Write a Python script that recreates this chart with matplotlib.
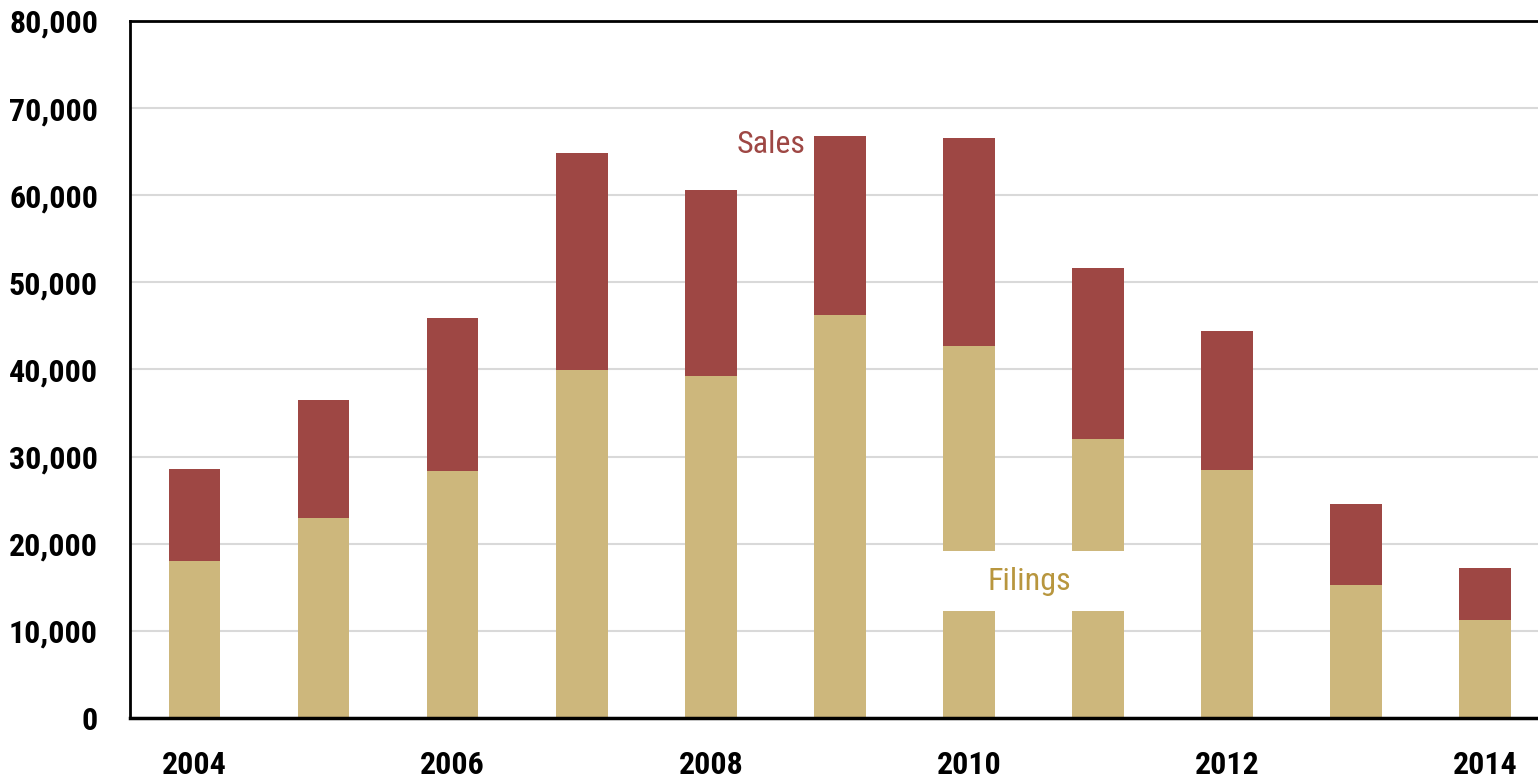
import matplotlib.pyplot as plt
from matplotlib.patches import Rectangle
from matplotlib.ticker import FuncFormatter

years = [2004, 2005, 2006, 2007, 2008, 2009, 2010, 2011, 2012, 2013, 2014]
filings = [18000, 22900, 28400, 39900, 39300, 46300, 42700, 32000, 28500, 15300, 11200]
totals = [28600, 36500, 45900, 64900, 60600, 66800, 66600, 51600, 44400, 24600, 17200]
sales = [t - f for t, f in zip(totals, filings)]

tick_years = [2004, 2006, 2008, 2010, 2012, 2014]
y_ticks = [0, 10000, 20000, 30000, 40000, 50000, 60000, 70000, 80000]

FILINGS_COLOR = '#CDB77C'
SALES_COLOR = '#9E4744'
FONT = ['Roboto Condensed', 'Barlow Condensed', 'DejaVu Sans']

plt.rcParams['font.family'] = FONT


def main():
    fig = plt.figure(figsize=(15.38, 7.8), dpi=100)
    ax = fig.add_axes([130 / 1538, 62 / 780, 1408 / 1538, 697 / 780])

    x = list(range(len(years)))
    ax.bar(x, filings, width=0.4, color=FILINGS_COLOR, zorder=2)
    ax.bar(x, sales, width=0.4, bottom=filings, color=SALES_COLOR, zorder=2)

    ax.set_ylim(0, 80000)
    ax.set_xlim(-0.5, 10.41)
    ax.set_yticks(y_ticks)
    ax.yaxis.set_major_formatter(FuncFormatter(lambda v, p: f'{int(v):,}'))
    ax.set_xticks([years.index(y) for y in tick_years])
    ax.set_xticklabels([str(y) for y in tick_years])
    ax.tick_params(axis='both', length=0, labelsize=23)
    ax.tick_params(axis='y', pad=23)
    ax.tick_params(axis='x', pad=23)
    for lbl in ax.get_xticklabels() + ax.get_yticklabels():
        lbl.set_fontweight('bold')

    ax.grid(axis='y', color='#D9D9D9', linewidth=1.5, zorder=0)
    ax.set_axisbelow(True)
    ax.spines['right'].set_visible(False)
    ax.spines['left'].set_linewidth(2)
    ax.spines['top'].set_linewidth(2)
    ax.spines['bottom'].set_linewidth(2.5)

    # white box behind the Filings label
    ax.add_patch(Rectangle((5.8, 12300), 1.405, 6850, facecolor='white',
                           edgecolor='none', zorder=3))
    ax.text(6.47, 15700, 'Filings', color='#B8963E', fontsize=23,
            ha='center', va='center', zorder=4)
    ax.text(4.47, 65800, 'Sales', color=SALES_COLOR, fontsize=23,
            ha='center', va='center', zorder=4)

    fig.savefig('out.png', dpi=100)


if __name__ == '__main__':
    main()
